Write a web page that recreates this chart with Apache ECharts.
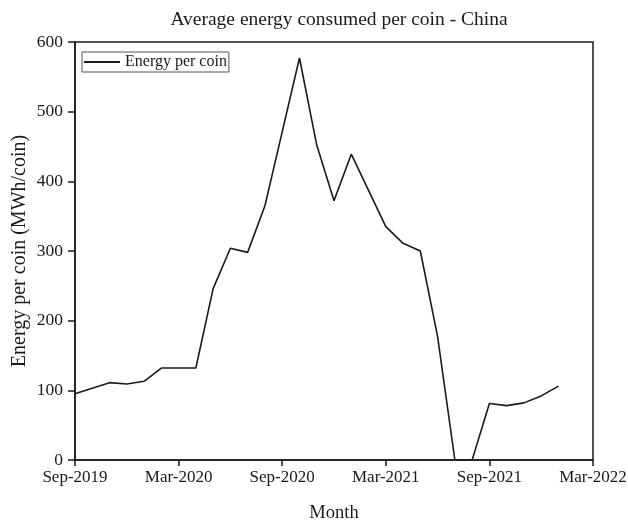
<!DOCTYPE html>
<html>
<head>
<meta charset="utf-8">
<script src="https://cdn.jsdelivr.net/npm/echarts@6/dist/echarts.min.js"></script>
<style>
  html, body { margin: 0; padding: 0; background: #fff; }
  #chart { width: 628px; height: 523px; }
</style>
</head>
<body>
<div id="chart"></div>
<script>
// Months on the horizontal axis (Sep-2019 .. Mar-2022)
const months = [
  'Sep-2019','Oct-2019','Nov-2019','Dec-2019','Jan-2020','Feb-2020',
  'Mar-2020','Apr-2020','May-2020','Jun-2020','Jul-2020','Aug-2020',
  'Sep-2020','Oct-2020','Nov-2020','Dec-2020','Jan-2021','Feb-2021',
  'Mar-2021','Apr-2021','May-2021','Jun-2021','Jul-2021','Aug-2021',
  'Sep-2021','Oct-2021','Nov-2021','Dec-2021','Jan-2022','Feb-2022',
  'Mar-2022'
];

// Average energy per coin, MWh/coin (Sep-2019 .. Jan-2022)
const energyPerCoin = [
  95, 103, 111, 109, 113, 132,
  132, 132, 246, 304, 298, 365,
  471, 577, 452, 372, 439, 387,
  335, 311, 300, 177, 0, 0,
  81, 78, 82, 92, 106
];

const yTicks = [0, 100, 200, 300, 400, 500, 600];

const serif = '"Liberation Serif", "DejaVu Serif", serif';
const ink = '#1a1a1a';

const chart = echarts.init(document.getElementById('chart'));
chart.setOption({
  animation: false,
  backgroundColor: '#fff',
  title: {
    text: 'Average energy consumed per coin - China',
    left: 334, top: 5, textAlign: 'center',
    textStyle: { fontFamily: serif, fontSize: 19.5, fontWeight: 'normal', color: ink }
  },
  legend: {
    data: ['Energy per coin'],
    left: 82, top: 52,
    orient: 'vertical',
    borderColor: '#555', borderWidth: 1, borderRadius: 0,
    padding: [2, 2, 2, 2],
    itemWidth: 36, itemHeight: 2, itemGap: 4,
    icon: 'rect',
    textStyle: { fontFamily: serif, fontSize: 16, color: ink }
  },
  grid: {
    left: 75, right: 35, top: 42, bottom: 63,
    show: true, borderColor: ink, borderWidth: 1.5,
    containLabel: false, outerBoundsMode: 'none'
  },
  xAxis: {
    type: 'category',
    data: months,
    boundaryGap: false,
    name: 'Month', nameLocation: 'middle', nameGap: 44, nameMoveOverlap: false,
    nameTextStyle: { fontFamily: serif, fontSize: 18.5, color: ink },
    axisLine: { lineStyle: { color: ink, width: 1.5 } },
    axisTick: { interval: 5, inside: false, length: 6, lineStyle: { color: ink, width: 1.5 } },
    axisLabel: { interval: 5, margin: 9, fontFamily: serif, fontSize: 17, color: ink },
    splitLine: { show: false }
  },
  yAxis: {
    type: 'value',
    min: yTicks[0], max: yTicks[yTicks.length - 1], interval: 100,
    name: 'Energy per coin (MWh/coin)', nameLocation: 'middle', nameGap: 45, nameMoveOverlap: false,
    nameTextStyle: { fontFamily: serif, fontSize: 20, color: ink },
    axisLine: { show: true, lineStyle: { color: ink, width: 1.5 } },
    axisTick: { show: true, length: 7, lineStyle: { color: ink, width: 1.5 } },
    axisLabel: { margin: 12, fontFamily: serif, fontSize: 17.5, color: ink },
    splitLine: { show: false }
  },
  series: [{
    name: 'Energy per coin',
    type: 'line',
    data: energyPerCoin,
    showSymbol: false,
    symbol: 'none',
    lineStyle: { color: ink, width: 1.6 },
    itemStyle: { color: ink }
  }]
});
</script>
</body>
</html>
